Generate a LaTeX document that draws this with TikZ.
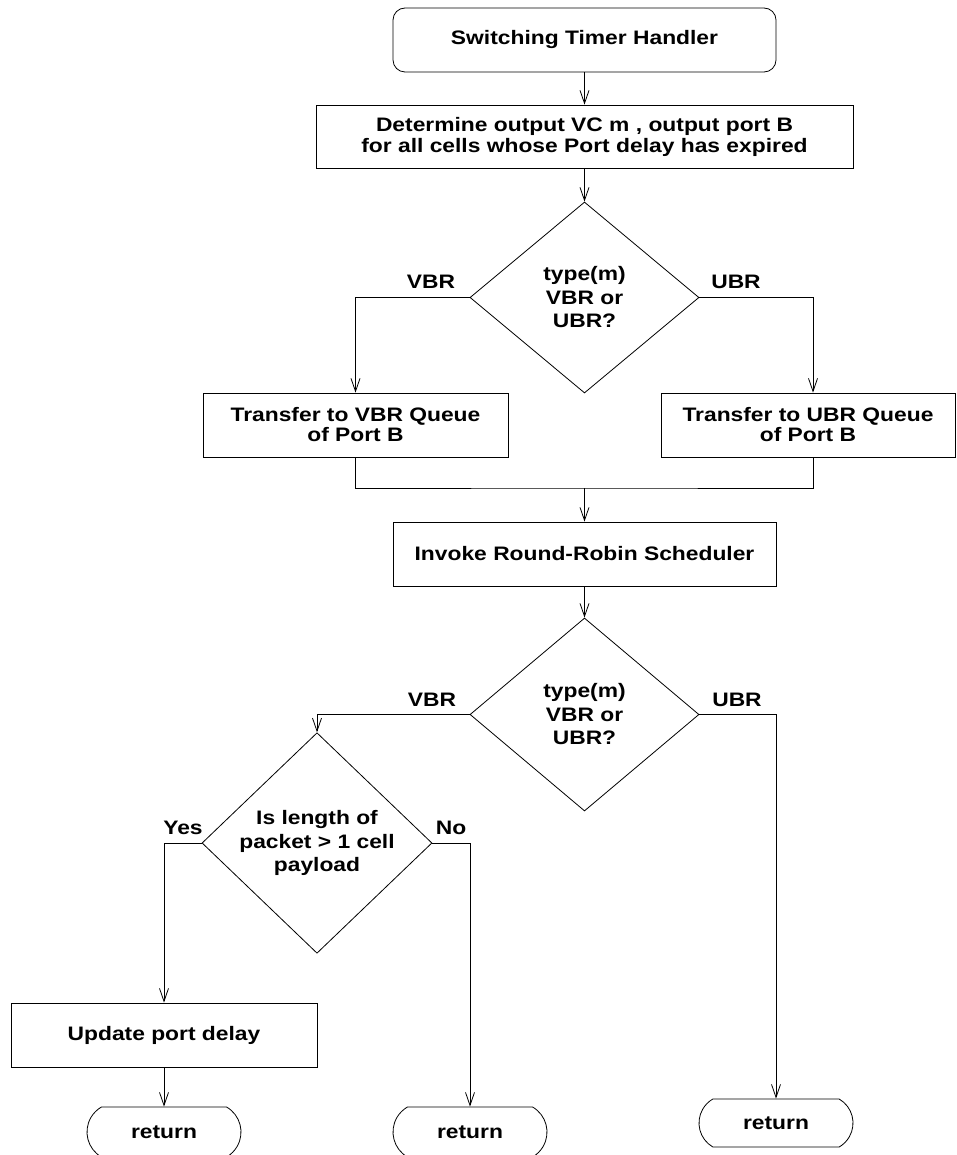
\documentclass[tikz,border=0pt]{standalone}
\usepackage{fontspec}
\setmainfont[FakeStretch=1.17]{Liberation Sans}
\usetikzlibrary{shapes.geometric,shapes.misc,arrows.meta,calc}

\begin{document}
\begin{tikzpicture}[x=1pt,y=-1pt,
  font=\fontsize{19.5}{21}\selectfont\bfseries,
  every path/.style={line width=0.8pt},
  flow/.style={-{Straight Barb[length=13pt,width=9pt,line width=0.8pt]}},
  proc/.style={draw, rectangle, inner sep=0pt, align=center, minimum height=64},
  term/.style={draw, rectangle, rounded corners=12pt, inner sep=0pt, minimum height=64},
  ret/.style={draw, rounded rectangle, rounded rectangle arc length=120,
              inner sep=0pt, minimum width=154, minimum height=48},
  decide/.style={draw, diamond, inner sep=0pt, align=center,
                 font=\fontsize{19.5}{23.5}\selectfont\bfseries},
  tag/.style={inner sep=0pt, anchor=center}]
\useasboundingbox (0,0) rectangle (956,1155);

% ---- upper part: timer, classification by traffic type
\node[term, minimum width=383] (start) at (584.5,40) {Switching Timer Handler};
\node[proc, minimum width=537, minimum height=63] (det) at (584.5,136.5)
  {Determine output VC m , output port B\\for all cells whose Port delay has expired};
\node[decide, minimum width=229, minimum height=191] (d1) at (584.5,297.5)
  {type(m)\\VBR or\\UBR?};
\node[proc, minimum width=305, font=\fontsize{19.5}{20}\selectfont\bfseries] (vbrq) at (355.5,425)
  {Transfer to VBR Queue\\of Port B};
\node[proc, minimum width=294, font=\fontsize{19.5}{20}\selectfont\bfseries] (ubrq) at (808,425)
  {Transfer to UBR Queue\\of Port B};
\coordinate (join) at (584.5,488);
\node[proc, minimum width=383] (rr) at (584.5,554) {Invoke Round-Robin Scheduler};

\node[tag] (t1v) at (431,282) {VBR};
\node[tag] (t1u) at (736,282) {UBR};

% ---- lower part: scheduling decision and packet length test
\node[decide, minimum width=229, minimum height=193] (d2) at (584.5,714.5)
  {type(m)\\VBR or\\UBR?};
\node[decide, minimum width=230, minimum height=192] (d3) at (317,843)
  {Is length of\\packet > 1 cell\\payload};
\node[proc, minimum width=306] (upd) at (164,1035) {Update port delay};
\node[ret, minimum height=50] (r1) at (164,1132) {return};
\node[ret, minimum height=50] (r2) at (470,1132) {return};
\node[ret] (r3) at (776,1123) {return};

\node[tag] (t2v) at (432,700) {VBR};
\node[tag] (t2u) at (737,700) {UBR};
\node[tag] (t3y) at (183,828) {Yes};
\node[tag] (t3n) at (451,828) {No};

% ---- connectors
\draw[flow] (start) -- (det);
\draw[flow] (det) -- (d1.north);
\draw[flow] (d1.west) -| (vbrq.north);
\draw[flow] (d1.east) -| ($(ubrq.north)+(5,0)$);
\draw (vbrq.south) |- (join) -| ($(ubrq.south)+(5,0)$);
\draw[flow] (join) -- (rr.north);
\draw[flow] (rr) -- (d2.north);
\draw[flow] (d2.west) -| (d3.north);
\draw[flow] (d2.east) -| (r3.north);
\draw[flow] (d3.west) -| (upd.north);
\draw[flow] (d3.east) -| (r2.north);
\draw[flow] (upd) -- (r1.north);
\end{tikzpicture}
\end{document}
